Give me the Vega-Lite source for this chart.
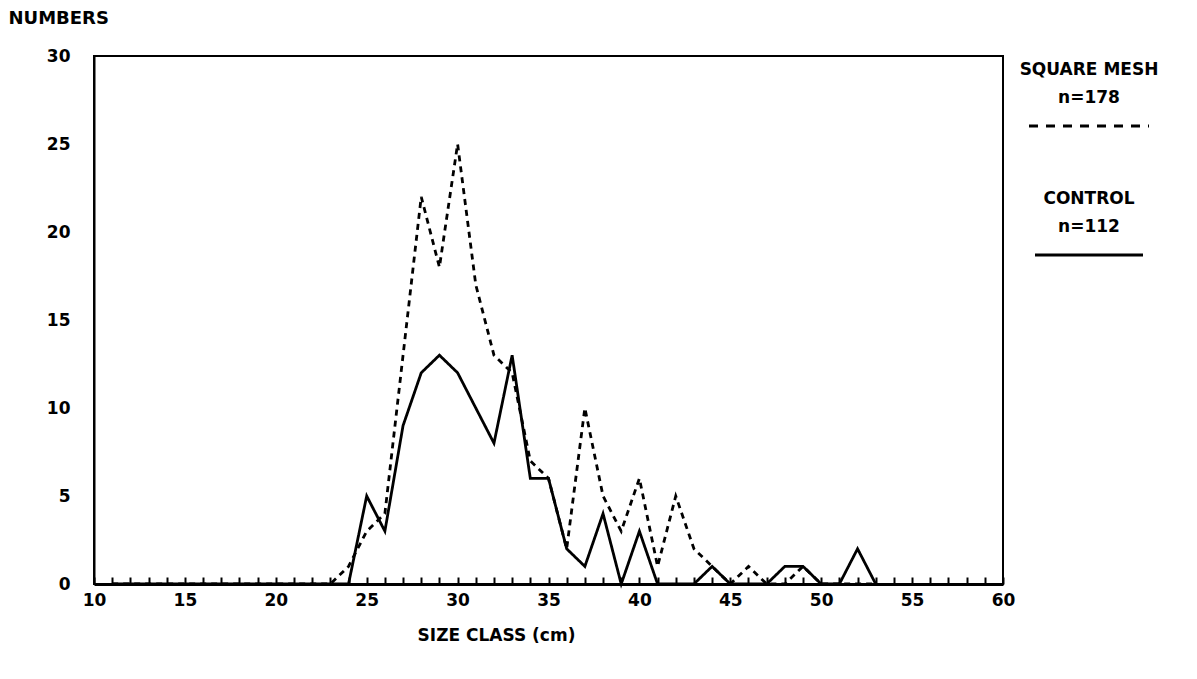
{
  "$schema": "https://vega.github.io/schema/vega-lite/v6.json",
  "background": "white",
  "padding": {"left": 7, "top": 8, "right": 0, "bottom": 0},
  "spacing": 3,
  "config": {
    "font": "DejaVu Sans",
    "view": {"stroke": null},
    "axis": {
      "grid": false,
      "domainColor": "black",
      "tickColor": "black",
      "labelColor": "black",
      "titleColor": "black",
      "labelFont": "DejaVu Sans",
      "titleFont": "DejaVu Sans",
      "labelFontWeight": "bold",
      "titleFontWeight": "bold",
      "labelFontSize": 17,
      "titleFontSize": 17
    }
  },
  "hconcat": [
    {
      "width": 909,
      "height": 528,
      "view": {"stroke": "black", "strokeWidth": 2},
      "data": {
        "values": [
          {"size": 11, "SQUARE MESH": 0, "CONTROL": 0},
          {"size": 12, "SQUARE MESH": 0, "CONTROL": 0},
          {"size": 13, "SQUARE MESH": 0, "CONTROL": 0},
          {"size": 14, "SQUARE MESH": 0, "CONTROL": 0},
          {"size": 15, "SQUARE MESH": 0, "CONTROL": 0},
          {"size": 16, "SQUARE MESH": 0, "CONTROL": 0},
          {"size": 17, "SQUARE MESH": 0, "CONTROL": 0},
          {"size": 18, "SQUARE MESH": 0, "CONTROL": 0},
          {"size": 19, "SQUARE MESH": 0, "CONTROL": 0},
          {"size": 20, "SQUARE MESH": 0, "CONTROL": 0},
          {"size": 21, "SQUARE MESH": 0, "CONTROL": 0},
          {"size": 22, "SQUARE MESH": 0, "CONTROL": 0},
          {"size": 23, "SQUARE MESH": 0, "CONTROL": 0},
          {"size": 24, "SQUARE MESH": 1, "CONTROL": 0},
          {"size": 25, "SQUARE MESH": 3, "CONTROL": 5},
          {"size": 26, "SQUARE MESH": 4, "CONTROL": 3},
          {"size": 27, "SQUARE MESH": 13, "CONTROL": 9},
          {"size": 28, "SQUARE MESH": 22, "CONTROL": 12},
          {"size": 29, "SQUARE MESH": 18, "CONTROL": 13},
          {"size": 30, "SQUARE MESH": 25, "CONTROL": 12},
          {"size": 31, "SQUARE MESH": 17, "CONTROL": 10},
          {"size": 32, "SQUARE MESH": 13, "CONTROL": 8},
          {"size": 33, "SQUARE MESH": 12, "CONTROL": 13},
          {"size": 34, "SQUARE MESH": 7, "CONTROL": 6},
          {"size": 35, "SQUARE MESH": 6, "CONTROL": 6},
          {"size": 36, "SQUARE MESH": 2, "CONTROL": 2},
          {"size": 37, "SQUARE MESH": 10, "CONTROL": 1},
          {"size": 38, "SQUARE MESH": 5, "CONTROL": 4},
          {"size": 39, "SQUARE MESH": 3, "CONTROL": 0},
          {"size": 40, "SQUARE MESH": 6, "CONTROL": 3},
          {"size": 41, "SQUARE MESH": 1, "CONTROL": 0},
          {"size": 42, "SQUARE MESH": 5, "CONTROL": 0},
          {"size": 43, "SQUARE MESH": 2, "CONTROL": 0},
          {"size": 44, "SQUARE MESH": 1, "CONTROL": 1},
          {"size": 45, "SQUARE MESH": 0, "CONTROL": 0},
          {"size": 46, "SQUARE MESH": 1, "CONTROL": 0},
          {"size": 47, "SQUARE MESH": 0, "CONTROL": 0},
          {"size": 48, "SQUARE MESH": 0, "CONTROL": 1},
          {"size": 49, "SQUARE MESH": 1, "CONTROL": 1},
          {"size": 50, "SQUARE MESH": 0, "CONTROL": 0},
          {"size": 51, "SQUARE MESH": 0, "CONTROL": 0},
          {"size": 52, "SQUARE MESH": 0, "CONTROL": 2},
          {"size": 53, "SQUARE MESH": 0, "CONTROL": 0}
        ]
      },
      "transform": [{"fold": ["SQUARE MESH", "CONTROL"], "as": ["series", "count"]}],
      "mark": {"type": "line", "color": "black", "strokeWidth": 2.8},
      "encoding": {
        "x": {
          "field": "size",
          "type": "quantitative",
          "scale": {"domain": [10, 60], "nice": false},
          "axis": {
            "title": "SIZE CLASS (cm)",
            "values": [10,11,12,13,14,15,16,17,18,19,20,21,22,23,24,25,26,27,28,29,30,31,32,33,34,35,36,37,38,39,40,41,42,43,44,45,46,47,48,49,50,51,52,53,54,55,56,57,58,59,60],
            "labelExpr": "datum.value % 5 === 0 ? datum.label : ''",
            "labelOverlap": false,
            "labelFlush": false,
            "tickSize": -7,
            "tickWidth": 2,
            "domainWidth": 3,
            "labelPadding": 15,
            "titleX": 402,
            "titleY": 51,
            "titleAlign": "center",
            "titleBaseline": "middle"
          }
        },
        "y": {
          "field": "count",
          "type": "quantitative",
          "scale": {"domain": [0, 30], "nice": false},
          "axis": {
            "title": "NUMBERS",
            "titleFontSize": 18,
            "values": [0, 5, 10, 15, 20, 25, 30],
            "ticks": false,
            "domainWidth": 2,
            "labelPadding": 24,
            "titleAngle": 0,
            "titleX": -86,
            "titleY": -38,
            "titleAlign": "left",
            "titleBaseline": "middle"
          }
        },
        "strokeDash": {
          "field": "series",
          "type": "nominal",
          "scale": {"domain": ["SQUARE MESH", "CONTROL"], "range": [[6, 5], [1, 0]]},
          "legend": null
        }
      }
    },
    {
      "width": 140,
      "height": 213,
      "data": {
        "values": [
          {"series": "SQUARE MESH", "part": "name", "text": "SQUARE MESH"},
          {"series": "SQUARE MESH", "part": "n", "text": "n=178"},
          {"series": "SQUARE MESH", "part": "line", "text": ""},
          {"series": "CONTROL", "part": "name", "text": "CONTROL"},
          {"series": "CONTROL", "part": "n", "text": "n=112"},
          {"series": "CONTROL", "part": "line", "text": ""}
        ]
      },
      "encoding": {
        "y": {
          "field": "series",
          "type": "nominal",
          "sort": ["SQUARE MESH", "CONTROL"],
          "scale": {"type": "band", "paddingInner": 0.349, "paddingOuter": 0},
          "axis": null
        },
        "yOffset": {
          "field": "part",
          "type": "nominal",
          "sort": ["name", "n", "line"],
          "scale": {"type": "band", "paddingInner": 0, "paddingOuter": 0}
        }
      },
      "layer": [
        {
          "transform": [{"filter": "datum.part !== 'line'"}],
          "mark": {"type": "text", "fontSize": 17, "fontWeight": "bold", "color": "black", "font": "DejaVu Sans"},
          "encoding": {"text": {"field": "text"}}
        },
        {
          "transform": [{"filter": "datum.part === 'line' && datum.series === 'SQUARE MESH'"}],
          "mark": {"type": "point", "shape": "M-1,0L1,0", "size": 14400, "filled": false, "stroke": "black", "strokeWidth": 3, "strokeDash": [9, 8], "opacity": 1}
        },
        {
          "transform": [{"filter": "datum.part === 'line' && datum.series === 'CONTROL'"}],
          "mark": {"type": "point", "shape": "M-1,0L1,0", "size": 11664, "filled": false, "stroke": "black", "strokeWidth": 3, "opacity": 1}
        }
      ]
    }
  ]
}
